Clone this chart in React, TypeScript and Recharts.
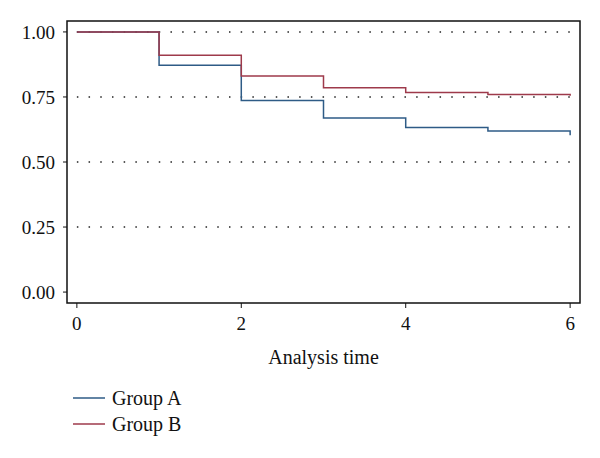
import React from 'react';
import { LineChart, Line, XAxis, YAxis, ReferenceLine, ReferenceArea, Legend } from 'recharts';

const times = [0, 1, 2, 3, 4, 5, 6];
const groupA = [1.0, 0.872, 0.736, 0.669, 0.633, 0.619, 0.603];
const groupB = [1.0, 0.910, 0.831, 0.785, 0.767, 0.759, 0.755];
const xTicks = [0, 2, 4, 6];
const yTicks = [0, 0.25, 0.5, 0.75, 1];
const gridValues = [0.25, 0.5, 0.75, 1];
const seriesNames = ['Group A', 'Group B'];
const seriesColors = ['#2e5b86', '#9e3a4b'];

const data = times.map((t, i) => ({ t, a: groupA[i], b: groupB[i] }));

const FONT = '"Liberation Serif", "DejaVu Serif", serif';
const X_DOMAIN: [number, number] = [-0.12, 6.12];
const Y_DOMAIN: [number, number] = [-0.042, 1.042];

const renderLegend = (props: any) => (
  <div>
    {(props.payload || []).map((e: any) => (
      <div key={e.value} style={{ display: 'flex', alignItems: 'center', height: 26 }}>
        <svg width={32} height={4}>
          <line x1={0} y1={2} x2={32} y2={2} stroke={e.color} strokeWidth={1.5} />
        </svg>
        <span style={{ marginLeft: 7, fontFamily: FONT, fontSize: 20, color: '#111' }}>{e.value}</span>
      </div>
    ))}
  </div>
);

export default function App() {
  return (
    <LineChart width={584} height={442} data={data} margin={{ top: 13, right: 12, left: 9, bottom: 86 }}>
      <ReferenceArea
        x1={X_DOMAIN[0]}
        x2={X_DOMAIN[1]}
        y1={Y_DOMAIN[0]}
        y2={Y_DOMAIN[1]}
        fill="none"
        stroke="#111"
        strokeWidth={1.5}
        fillOpacity={0}
        ifOverflow="visible"
      />
      {gridValues.map((v) => (
        <ReferenceLine
          key={v}
          segment={[{ x: 0, y: v }, { x: 6, y: v }]}
          stroke="#222"
          strokeWidth={1.5}
          strokeDasharray="1.5 10.2"
          ifOverflow="visible"
        />
      ))}
      <XAxis
        dataKey="t"
        type="number"
        domain={X_DOMAIN}
        ticks={xTicks}
        allowDataOverflow
        height={61}
        tickSize={5}
        tickMargin={9}
        axisLine={false}
        tickLine={{ stroke: '#111' }}
        tick={{ fontFamily: FONT, fontSize: 19, fill: '#111' }}
        label={{ value: 'Analysis time', position: 'insideBottom', offset: 0, fontFamily: FONT, fontSize: 20, fill: '#111' }}
      />
      <YAxis
        type="number"
        domain={Y_DOMAIN}
        ticks={yTicks}
        allowDataOverflow
        width={50}
        tickSize={4}
        tickMargin={8}
        axisLine={false}
        tickLine={{ stroke: '#111' }}
        tickFormatter={(v: number) => v.toFixed(2)}
        tick={{ fontFamily: FONT, fontSize: 19, fill: '#111' }}
      />
      <Line type="stepAfter" dataKey="a" name={seriesNames[0]} stroke={seriesColors[0]} strokeWidth={1.5} dot={false} isAnimationActive={false} />
      <Line type="stepAfter" dataKey="b" name={seriesNames[1]} stroke={seriesColors[1]} strokeWidth={1.5} dot={false} isAnimationActive={false} />
      <Legend
        layout="vertical"
        align="center"
        verticalAlign="middle"
        content={renderLegend}
        wrapperStyle={{ top: 377, left: 65, width: 'auto' }}
      />
    </LineChart>
  );
}
